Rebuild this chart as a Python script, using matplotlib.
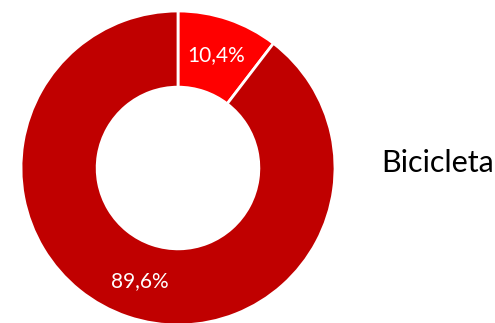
import matplotlib
matplotlib.use('Agg')
import matplotlib.pyplot as plt

# shares of the two slices (percent)
values = [10.4, 89.6]
colors = ['#FF0000', '#C00000']
label = 'Bicicleta'

W, H = 495, 323
fig = plt.figure(figsize=(W / 100, H / 100), dpi=100)

# donut centre ~ (178, 168) px from top, outer radius ~157 px
cx, cy, r = 178, 168, 157
ax = fig.add_axes([(cx - r) / W, (H - cy - r) / H, 2 * r / W, 2 * r / H])

ax.pie(values, colors=colors, startangle=90, counterclock=False,
       radius=1, pctdistance=0.76,
       autopct=lambda p: ('%.1f%%' % p).replace('.', ','),
       wedgeprops=dict(width=0.485, edgecolor='white', linewidth=2),
       textprops=dict(color='white', fontsize=15, family='Lato'))
ax.set_xlim(-1, 1)
ax.set_ylim(-1, 1)
ax.axis('off')

fig.text(381 / W, (H - 163) / H, label, fontsize=22, family='Lato',
         color='black', va='center', ha='left')

fig.savefig('out.png', dpi=100)
